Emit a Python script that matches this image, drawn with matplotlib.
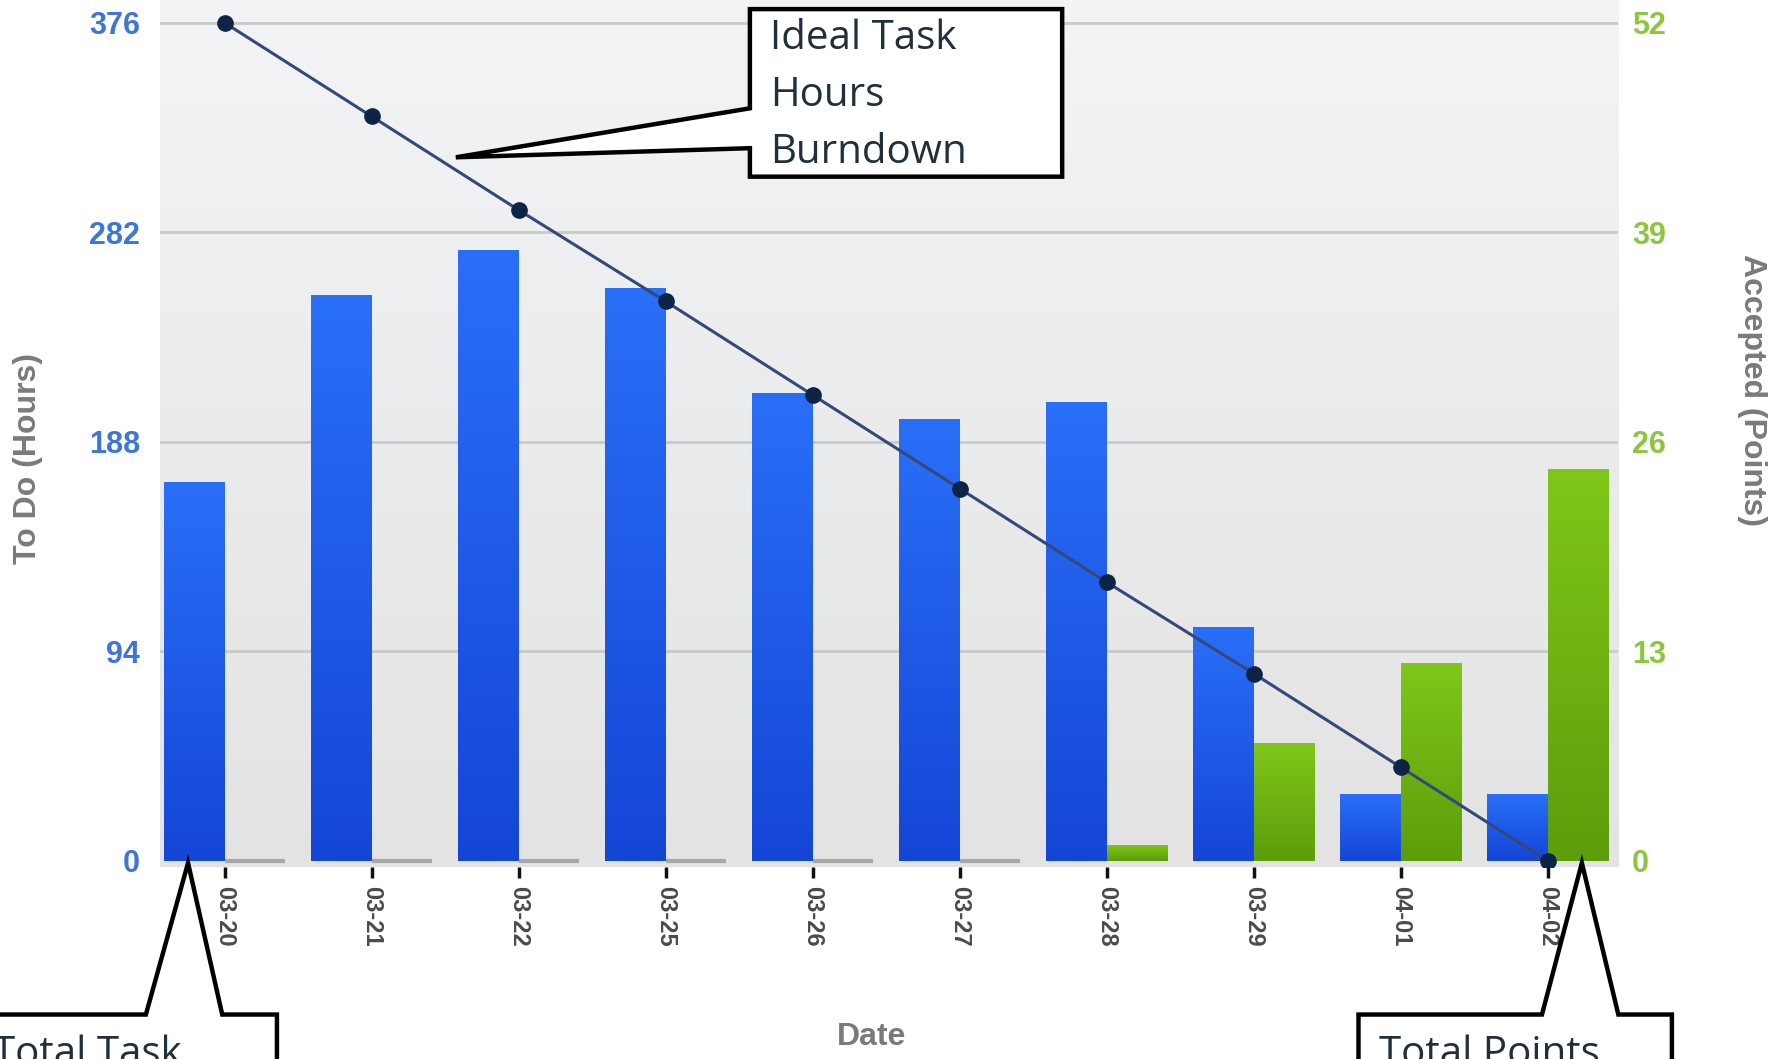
import numpy as np
import matplotlib.pyplot as plt
from matplotlib.colors import LinearSegmentedColormap
from matplotlib.patches import Polygon

dates = ['03-20', '03-21', '03-22', '03-25', '03-26', '03-27', '03-28', '03-29', '04-01', '04-02']
todo_hours = [170, 254, 274, 257, 210, 198, 206, 105, 30, 30]
accepted_points = [0, 0, 0, 0, 0, 0, 1, 7.3, 12.3, 24.3]
ideal_hours = [376, 334, 292, 251, 209, 167, 125, 84, 42, 0]
hour_ticks = [0, 94, 188, 282, 376]
point_ticks = [0, 13, 26, 39, 52]

W, H = 1568, 929  # reference display size used for layout fractions


def fx(x):
    return x / W


def fy(y):
    return 1 - y / H


def fill_gradient(axis, bars, top, bottom):
    cmap = LinearSegmentedColormap.from_list('g', [bottom, top])
    grad = np.linspace(0, 1, 256).reshape(-1, 1)
    for b in bars:
        x0, y0, w, h = b.get_x(), b.get_y(), b.get_width(), b.get_height()
        if h <= 0:
            continue
        im = axis.imshow(grad, cmap=cmap, extent=[x0, x0 + w, y0, y0 + h],
                         origin='lower', aspect='auto', zorder=2)
        im.set_clip_path(b)


fig = plt.figure(figsize=(17.87, 10.59), dpi=100)
ax = fig.add_axes([fx(140), fy(761), fx(1420) - fx(140), 1 - fy(761)])
ax2 = ax.twinx()

x = np.arange(len(dates))
w = 0.41
ylo, yhi = -3, 386.2
xlo, xhi = -0.442, 9.48

# background gradient
bg = LinearSegmentedColormap.from_list('bg', ['#e3e3e3', '#f3f4f6'])
ax.imshow(np.linspace(0, 1, 256).reshape(-1, 1), cmap=bg, origin='lower',
          extent=[xlo, xhi, ylo, yhi], aspect='auto', zorder=0)

blue = ax.bar(x - w, todo_hours, width=w, align='edge', color='#1f5ef0', zorder=2)
fill_gradient(ax, blue, '#2a6ff8', '#1446d6')

pts = np.array(accepted_points)
green = ax2.bar(x[pts > 0], pts[pts > 0], width=w, align='edge', color='#6cb312', zorder=2)
fill_gradient(ax2, green, '#7fc71a', '#5c9d0a')
ax2.hlines([0] * int((pts == 0).sum()), x[pts == 0], x[pts == 0] + w,
           color='#a8a8a8', lw=3, zorder=2)

ax2.plot(x, ideal_hours, color='#34487a', lw=2.2, marker='o', markersize=11,
         markerfacecolor='#0e2447', markeredgecolor='#0e2447',
         transform=ax.transData, zorder=5)

ax.set_xlim(xlo, xhi)
ax.set_ylim(ylo, yhi)
ax2.set_ylim(ylo * 52 / 376, yhi * 52 / 376)
ax.set_yticks(hour_ticks)
ax2.set_yticks(point_ticks)
ax.set_xticks(x)
ax.set_xticklabels(dates, rotation=270, fontsize=17, fontweight='bold',
                   color='#4a4a4a', family='Liberation Sans')
ax.grid(axis='y', color='#c9c9c9', lw=2)
ax.yaxis.get_gridlines()[0].set_visible(False)
ax.set_axisbelow(True)

for a in (ax, ax2):
    for s in a.spines.values():
        s.set_visible(False)

ax.tick_params(axis='y', length=0, pad=14, labelsize=22, labelcolor='#3f74d9')
ax2.tick_params(axis='y', length=0, pad=10, labelsize=22, labelcolor='#8cc63e')
ax.tick_params(axis='x', length=8, width=2.5, color='#111111', pad=5)
for lab in ax.get_yticklabels() + ax2.get_yticklabels():
    lab.set_fontweight('bold')
    lab.set_family('Liberation Sans')

lbl = dict(ha='center', va='center', fontsize=23, fontweight='bold',
           color='#7a7a7a', family='Liberation Sans')
fig.text(fx(25), fy(402), 'To Do (Hours)', rotation=90, **lbl)
fig.text(fx(1537), fy(342), 'Accepted (Points)', rotation=270, **lbl)
fig.text(fx(765), fy(910), 'Date', **lbl)

# callouts
callouts = [
    [(658, 8), (932, 8), (932, 155), (658, 155), (658, 130), (400, 138), (658, 95)],
    [(-10, 890), (128, 890), (165, 757), (195, 890), (243, 890), (243, 960), (-10, 960)],
    [(1192, 890), (1353, 890), (1388, 757), (1420, 890), (1467, 890), (1467, 960), (1192, 960)],
]
for c in callouts:
    fig.add_artist(Polygon([(fx(px), fy(py)) for px, py in c], closed=True,
                           transform=fig.transFigure, facecolor='white',
                           edgecolor='black', lw=3.2, zorder=10))

txt = dict(fontsize=29, color='#1f2f3b', family='Open Sans', va='center', ha='left', zorder=11)
for i, line in enumerate(['Ideal Task', 'Hours', 'Burndown']):
    fig.text(fx(676), fy(34 + 50 * i), line, **txt)
fig.text(fx(-6), fy(925), 'Total Task', **txt)
fig.text(fx(1210), fy(925), 'Total Points', **txt)

fig.savefig('out.png', dpi=100)
